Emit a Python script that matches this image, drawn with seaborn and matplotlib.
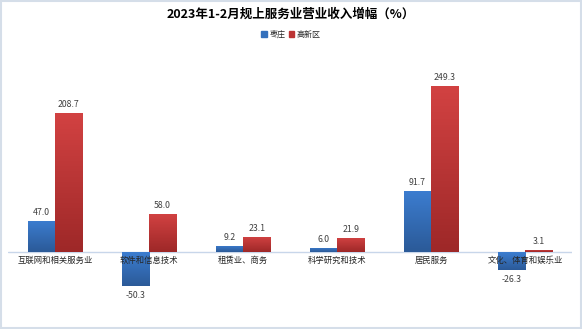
import numpy as np
import pandas as pd
import matplotlib
matplotlib.use("Agg")
import matplotlib.pyplot as plt
import seaborn as sns
from matplotlib.colors import LinearSegmentedColormap
from matplotlib.patches import Rectangle

categories = ["互联网和相关服务业", "软件和信息技术", "租赁业、商务", "科学研究和技术", "居民服务", "文化、体育和娱乐业"]
series_names = ["枣庄", "高新区"]
zaozhuang = [47.0, -50.3, 9.2, 6.0, 91.7, -26.3]
gaoxinqu = [208.7, 58.0, 23.1, 21.9, 249.3, 3.1]
title = "2023年1-2月规上服务业营业收入增幅（%）"

colors = {"枣庄": "#3470BC", "高新区": "#BC3434"}
grad = {"枣庄": ("#3C7DD0", "#2B5A98"), "高新区": ("#D24242", "#9E2828")}

df = pd.DataFrame({
    "cat": categories * 2,
    "series": [series_names[0]] * len(categories) + [series_names[1]] * len(categories),
    "val": zaozhuang + gaoxinqu,
})

sns.set_theme(style="white")
plt.rcParams["font.family"] = ["Noto Sans CJK SC", "DejaVu Sans"]

fig = plt.figure(figsize=(5.82, 3.29), dpi=100)
fig.patch.set_facecolor("white")
ax = fig.add_axes([8 / 582, 10 / 329, 564 / 582, 267 / 329])

sns.barplot(data=df, x="cat", y="val", hue="series", order=categories,
            hue_order=series_names, palette=colors, width=0.58, gap=0,
            saturation=1, ax=ax, legend=False, errorbar=None)

ax.set_ylim(-100, 300)
ax.set_xlim(-0.5, len(categories) - 0.5)
for s in ax.spines.values():
    s.set_visible(False)
ax.set_xticks([])
ax.set_yticks([])
ax.set_xlabel("")
ax.set_ylabel("")
ax.axhline(0, color="#C8D6EA", lw=1.0, zorder=1)

# gradient fill on bars
n = len(categories)
bars = [p for p in ax.patches if isinstance(p, Rectangle) and p.get_width() > 0]
for i, p in enumerate(bars[: 2 * n]):
    sname = series_names[i // n]
    c1, c2 = grad[sname]
    cmap = LinearSegmentedColormap.from_list("g", [c2, c1])
    x0, y0 = p.get_x(), p.get_y()
    w, h = p.get_width(), p.get_height()
    ylo, yhi = min(y0, y0 + h), max(y0, y0 + h)
    img = ax.imshow(np.linspace(0, 1, 64).reshape(-1, 1), cmap=cmap, aspect="auto",
                    extent=[x0, x0 + w, ylo, yhi], origin="lower", zorder=2)
    img.set_clip_path(p)
    val = (zaozhuang + gaoxinqu)[i]
    if val >= 0:
        ax.text(x0 + w / 2, yhi + 6, f"{val:.1f}", ha="center", va="bottom",
                fontsize=6.3, color="#404040", zorder=5)
    else:
        ax.text(x0 + w / 2, ylo - 8, f"{val:.1f}", ha="center", va="top",
                fontsize=6.3, color="#404040", zorder=5)
ax.set_xlim(-0.5, len(categories) - 0.5)
ax.set_ylim(-100, 300)

for i, c in enumerate(categories):
    ax.text(i, -6, c, ha="center", va="top", fontsize=6, color="#262626", zorder=6)

fig.text(0.5, 1 - 14 / 329, title, ha="center", va="center", fontsize=9,
         fontweight="bold", color="black")

handles = [Rectangle((0, 0), 1, 1, color=colors[s]) for s in series_names]
fig.legend(handles, series_names, loc="center", bbox_to_anchor=(0.5, 1 - 34 / 329),
           ncol=2, frameon=False, fontsize=5.8, handlelength=0.7, handleheight=0.7,
           handletextpad=0.3, columnspacing=0.4)

fig.add_artist(Rectangle((0.002, 0.003), 0.996, 0.994, transform=fig.transFigure,
                         fill=False, edgecolor="#D5DEE9", lw=1.5))

fig.savefig("out.png", dpi=100)
